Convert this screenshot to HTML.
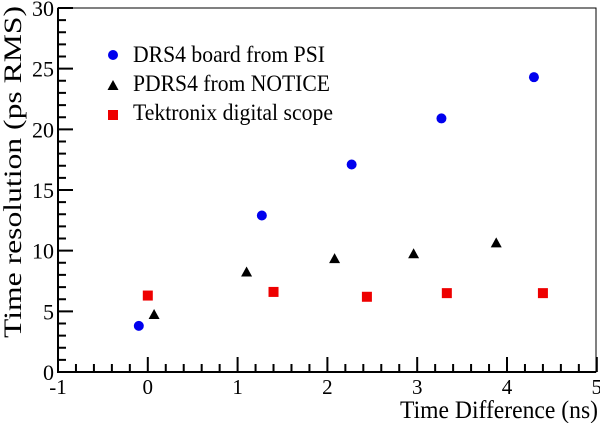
<!DOCTYPE html>
<html><head><meta charset="utf-8"><style>body{margin:0;background:#fff}svg{display:block;font-family:"Liberation Serif",serif}</style></head>
<body>
<svg id="chart" width="600" height="423"></svg>
<script>
const xTicks=[-1,0,1,2,3,4,5];
const yTicks=[0,5,10,15,20,25,30];
const drsX=[-0.1,1.27,2.27,3.27,4.3];
const drsY=[3.8,12.9,17.1,20.9,24.3];
const pdrsX=[0.07,1.1,2.08,2.96,3.88];
const pdrsY=[4.7,8.2,9.3,9.7,10.6];
const tekX=[0,1.4,2.44,3.33,4.4];
const tekY=[6.3,6.6,6.2,6.5,6.5];
const L=58,R=596,T=8,B=372;
const sx=v=>L+(v+1)*89.8, sy=v=>B-v*(B-T)/30;
const svg=document.getElementById('chart');const NS='http://www.w3.org/2000/svg';
function mk(t,a,p){const e=document.createElementNS(NS,t);for(const k in a)e.setAttribute(k,a[k]);(p||svg).appendChild(e);return e;}
const frame=mk('rect',{x:L,y:T,width:R-L,height:B-T,fill:'none',stroke:'#000','stroke-width':1});

const ax=mk('path',{d:`M${L},${T}V${B}H${R}`,fill:'none',stroke:'#000','stroke-width':2});

let d='';
for(let v=-1;v<=5.001;v+=0.2){const x=sx(v);const maj=Math.abs(v-Math.round(v))<1e-6;d+=`M${x},${B}v${maj?-15:-8}`;}
for(let v=0;v<=30;v+=1){const y=sy(v);d+=`M${L},${y}h${v%5==0?15:8}`;}
const tk=mk('path',{d:d,stroke:'#000','stroke-width':2,fill:'none'});

xTicks.forEach(v=>{const t=mk('text',{x:sx(v),y:B+22,'font-size':21,'text-anchor':'middle'});t.textContent=v;
});
yTicks.forEach(v=>{const t=mk('text',{x:L-4,y:sy(v)+8,'font-size':22,'text-anchor':'end'});t.textContent=v;
});
const xt=mk('text',{x:598,y:418,'font-size':25,'text-anchor':'end',textLength:198,lengthAdjust:'spacingAndGlyphs'});xt.textContent='Time Difference (ns)';

const yt=mk('text',{x:0,y:0,'font-size':25,'text-anchor':'end',textLength:332,lengthAdjust:'spacingAndGlyphs',transform:'translate(21,6) rotate(-90)'});yt.textContent='Time resolution (ps RMS)';

function circ(x,y,n){const e=mk('circle',{cx:x,cy:y,r:5,fill:'#0000ee'});}
function tri(x,y,n){const e=mk('path',{d:`M${x},${y-6}L${x+5.5},${y+4}L${x-5.5},${y+4}Z`,fill:'#000'});}
function sq(x,y,n){const e=mk('rect',{x:x-5,y:y-5,width:10,height:10,fill:'#ee0000'});}
drsX.forEach((v,i)=>circ(sx(v),sy(drsY[i]),'drs4-point'));
pdrsX.forEach((v,i)=>tri(sx(v),sy(pdrsY[i]),'pdrs4-point'));
tekX.forEach((v,i)=>sq(sx(v),sy(tekY[i]),'tektronix-point'));
circ(113,55,'legend-marker-drs4');tri(113,86,'legend-marker-pdrs4');sq(113,115,'legend-marker-tektronix');
[['DRS4 board from PSI',62,192],['PDRS4 from NOTICE',91,197],['Tektronix digital scope',120,200]].forEach(([s,y,w])=>{
const t=mk('text',{x:133,y:y,'font-size':23,textLength:w,lengthAdjust:'spacingAndGlyphs'});t.textContent=s;});
</script>
</body></html>
